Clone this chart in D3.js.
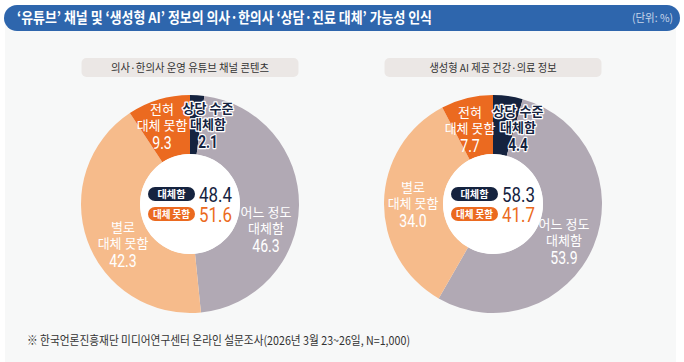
<!DOCTYPE html>
<html>
<head>
<meta charset="utf-8">
<script src="https://cdn.jsdelivr.net/npm/d3@7"></script>
<style>
  body { margin: 0; background: #fff; }
  text { font-family: "Noto Sans CJK KR", "Noto Sans", sans-serif; }
  .num { font-family: Roboto, "Liberation Sans", sans-serif; }
</style>
</head>
<body>
<div id="chart"></div>
<script>
// data
var categories = ["상당 수준 대체함", "어느 정도 대체함", "별로 대체 못함", "전혀 대체 못함"];
var categoryLines = [["상당 수준", "대체함"], ["어느 정도", "대체함"], ["별로", "대체 못함"], ["전혀", "대체 못함"]];
var chartTitles = ["의사·한의사 운영 유튜브 채널 콘텐츠", "생성형 AI 제공 건강·의료 정보"];
var youtubeValues = [2.1, 46.3, 42.3, 9.3];
var aiValues = [4.4, 53.9, 34.0, 7.7];
var summaryLabels = ["대체함", "대체 못함"];
var youtubeSummary = [48.4, 51.6];
var aiSummary = [58.3, 41.7];

var width = 684, height = 362;

var svg = d3.select("#chart")
  .append("svg")
  .attr("width", width)
  .attr("height", height);

// background panel + title bar
svg.append("rect")
  .attr("x", 5).attr("y", 16)
  .attr("width", 671).attr("height", 346)
  .attr("fill", "#f7f8f8");

svg.append("rect")
  .attr("x", 4).attr("y", 5)
  .attr("width", 676).attr("height", 26)
  .attr("rx", 13)
  .attr("fill", "#2e66ad");

svg.append("text")
  .attr("x", 17).attr("y", 23)
  .attr("fill", "#fff")
  .attr("font-size", "15px")
  .attr("font-weight", "bold")
  .attr("textLength", 415)
  .attr("lengthAdjust", "spacingAndGlyphs")
  .text("‘유튜브’ 채널 및 ‘생성형 AI’ 정보의 의사·한의사 ‘상담·진료 대체’ 가능성 인식");

svg.append("text")
  .attr("x", 673).attr("y", 22)
  .attr("text-anchor", "end")
  .attr("fill", "#c9d6ea")
  .attr("font-size", "11px")
  .attr("textLength", 41)
  .attr("lengthAdjust", "spacingAndGlyphs")
  .text("(단위: %)");

svg.append("text")
  .attr("x", 27).attr("y", 345)
  .attr("fill", "#333")
  .attr("font-size", "12px")
  .attr("textLength", 383)
  .attr("lengthAdjust", "spacingAndGlyphs")
  .text("※ 한국언론진흥재단 미디어연구센터 온라인 설문조사(2026년 3월 23~26일, N=1,000)");

var color = d3.scaleOrdinal()
  .domain(categories)
  .range(["#15233f", "#b1a9b4", "#f6bb8b", "#eb6a20"]);

var summaryColor = ["#15233f", "#eb6a20"];

// label anchors relative to each donut centre (layout only)
var labelOffsets = [
  [[18, -96], [76, 8], [-67, 23], [-28, -95]],
  [[25, -93], [71, 20], [-80, -17], [-23, -92]]
];

var charts = [
  {title: chartTitles[0], values: youtubeValues, summary: youtubeSummary, cx: 190, titleW: 217, textW: 158},
  {title: chartTitles[1], values: aiValues, summary: aiSummary, cx: 493, titleW: 217, textW: 127}
];

var cy = 204, outerR = 109, innerR = 50;

var pie = d3.pie().sort(null).value(function(d){ return d.value; });
var arc = d3.arc().innerRadius(innerR).outerRadius(outerR);

function numWidth(s, digit, dot) {
  return s.replace(".", "").length * digit + dot;
}

charts.forEach(function(c, ci) {
  // sub title pill
  svg.append("rect")
    .attr("x", c.cx - c.titleW / 2).attr("y", 58)
    .attr("width", c.titleW).attr("height", 19)
    .attr("rx", 5)
    .attr("fill", "#ebe7e5");
  svg.append("text")
    .attr("x", c.cx).attr("y", 71.5)
    .attr("text-anchor", "middle")
    .attr("fill", "#333")
    .attr("font-size", "11px")
    .attr("textLength", c.textW)
    .attr("lengthAdjust", "spacingAndGlyphs")
    .text(c.title);

  var g = svg.append("g")
    .attr("transform", "translate(" + c.cx + "," + cy + ")");

  var data = categories.map(function(k, i){ return {key: k, value: c.values[i], idx: i}; });

  g.selectAll("path")
    .data(pie(data))
    .enter()
    .append("path")
    .attr("d", arc)
    .attr("fill", function(d){ return color(d.data.key); });

  g.append("circle")
    .attr("r", innerR)
    .attr("fill", "#fff");

  // slice labels
  data.forEach(function(d, i) {
    var off = labelOffsets[ci][i];
    var dark = i === 0;
    var t = g.append("text")
      .attr("text-anchor", "middle")
      .attr("fill", dark ? "#15233f" : "#fff")
      .attr("stroke", dark ? "#fff" : "none")
      .attr("stroke-width", dark ? 2.5 : 0)
      .attr("stroke-linejoin", "round")
      .attr("paint-order", "stroke")
      .attr("font-weight", dark ? "bold" : "normal");
    categoryLines[i].forEach(function(line, li) {
      t.append("tspan")
        .attr("x", off[0]).attr("y", off[1] + 5 + li * 16)
        .attr("font-size", "13px")
        .text(line);
    });
    var s = d.value.toFixed(1);
    g.append("text")
      .attr("class", "num")
      .attr("x", off[0]).attr("y", off[1] + 5 + 16 + 18.5)
      .attr("text-anchor", "middle")
      .attr("fill", dark ? "#15233f" : "#fff")
      .attr("stroke", dark ? "#fff" : "none")
      .attr("stroke-width", dark ? 2.5 : 0)
      .attr("stroke-linejoin", "round")
      .attr("paint-order", "stroke")
      .attr("font-size", "18px")
      .attr("font-weight", dark ? "bold" : "normal")
      .attr("textLength", numWidth(s, 7.8, 4))
      .attr("lengthAdjust", "spacingAndGlyphs")
      .text(s);
  });

  // centre summary
  c.summary.forEach(function(v, i) {
    var y = -10 + i * 20;
    g.append("rect")
      .attr("x", -42).attr("y", y - 7)
      .attr("width", 47).attr("height", 14)
      .attr("rx", 7)
      .attr("fill", summaryColor[i]);
    g.append("text")
      .attr("x", -18.5).attr("y", y + 3.5)
      .attr("text-anchor", "middle")
      .attr("fill", "#fff")
      .attr("font-size", "10px")
      .attr("font-weight", "bold")
      .attr("textLength", i === 0 ? 28 : 37)
      .attr("lengthAdjust", "spacingAndGlyphs")
      .text(summaryLabels[i]);
    var s = v.toFixed(1);
    g.append("text")
      .attr("class", "num")
      .attr("x", 9).attr("y", y + 7.5)
      .attr("fill", summaryColor[i])
      .attr("font-size", "21px")
      .attr("textLength", numWidth(s, 9.3, 5))
      .attr("lengthAdjust", "spacingAndGlyphs")
      .text(s);
  });
});
</script>
</body>
</html>
